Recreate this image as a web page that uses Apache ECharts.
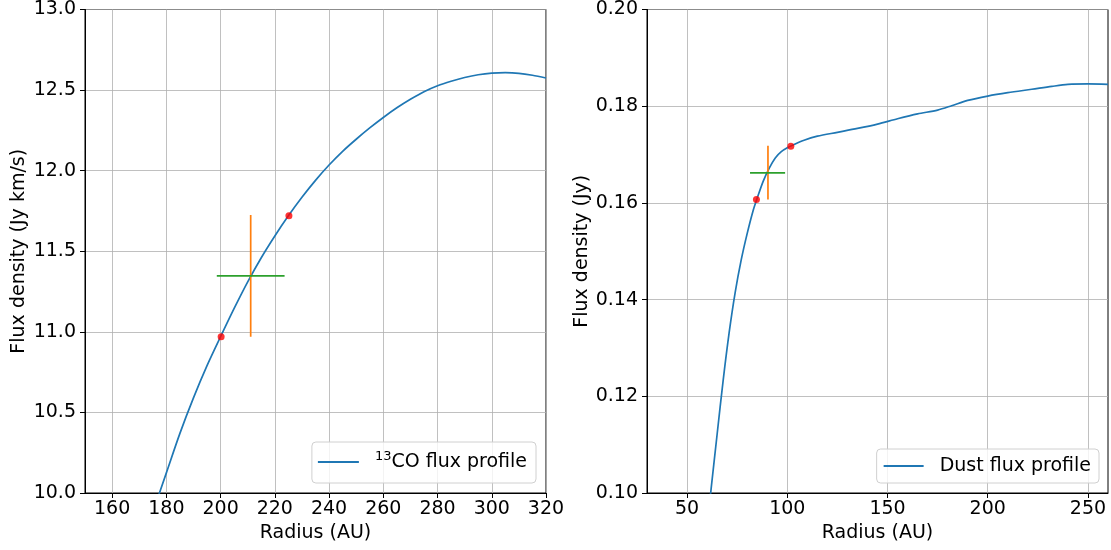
<!DOCTYPE html>
<html><head><meta charset="utf-8">
<script src="https://cdn.jsdelivr.net/npm/echarts@6/dist/echarts.min.js"></script>
<style>html,body{margin:0;padding:0;background:#fff}#c{width:1111px;height:550px}</style>
</head><body><div id="c"></div>
<script>
// ---- Left panel: 13CO flux profile ----
const coRadius = [175, 180, 185, 190, 195, 200, 205, 210, 215, 220, 225, 230, 235, 240, 245, 250, 255, 260, 265, 270, 275, 280, 285, 290, 295, 300, 305, 310, 315, 320];
const coFlux   = [9.88, 10.125, 10.37, 10.59, 10.79, 10.97, 11.145, 11.31, 11.46, 11.595, 11.72, 11.835, 11.94, 12.035, 12.12, 12.195, 12.265, 12.33, 12.39, 12.443, 12.49, 12.527, 12.555, 12.578, 12.595, 12.605, 12.608, 12.604, 12.592, 12.575];
const coDotsX  = [200.2, 225.2];
const coDotsY  = [10.97, 11.72];
const coErrV_X = [211.1, 211.1];
const coErrV_Y = [10.97, 11.725];
const coErrH_X = [198.6, 223.6];
const coErrH_Y = [11.347, 11.347];
const coXTicks = [160, 180, 200, 220, 240, 260, 280, 300, 320];

// ---- Right panel: Dust flux profile ----
const dustRadius = [60, 62, 65, 68, 71, 74, 77, 80, 83, 85, 88, 91, 94, 97, 100, 103, 108, 115, 125, 135, 145, 155, 165, 175, 182, 190, 200, 210, 222, 232, 240, 250, 260];
const dustFlux   = [0.093, 0.1009, 0.1122, 0.1233, 0.1332, 0.1415, 0.1482, 0.1537, 0.1585, 0.1610, 0.1645, 0.1672, 0.1693, 0.1706, 0.1714, 0.1720, 0.1729, 0.1738, 0.1746, 0.1754, 0.1763, 0.1774, 0.1784, 0.1792, 0.1801, 0.1812, 0.1821, 0.1828, 0.1835, 0.1841, 0.1845, 0.1846, 0.1845];
const dustDotsX  = [84.6, 101.75];
const dustDotsY  = [0.1607, 0.1717];
const dustErrV_X = [90.35, 90.35];
const dustErrV_Y = [0.1607, 0.1718];
const dustErrH_X = [81.4, 98.9];
const dustErrH_Y = [0.1662, 0.1662];
const dustXTicks = [50, 100, 150, 200, 250];

const FONT = 'DejaVu Sans';
const FS = 19;
const zip = (a, b) => a.map((v, i) => [v, b[i]]);

function xAx(idx, min, max, ticks) {
  return {
    gridIndex: idx, type: 'value', min: min, max: max,
    name: 'Radius (AU)', nameLocation: 'middle', nameGap: 29,
    nameTextStyle: {fontSize: FS, color: '#000', fontFamily: FONT},
    axisLine: {onZero: false, lineStyle: {color: '#000', width: 1}},
    axisTick: {show: true, inside: false, length: 5, lineStyle: {color: '#000'}, customValues: ticks},
    axisLabel: {customValues: ticks, fontSize: FS, color: '#000', fontFamily: FONT, margin: 7},
    splitLine: {show: true, lineStyle: {color: '#b0b0b0', width: 0.8}}
  };
}
function yAx(idx, min, max, interval, name, dec, gap) {
  return {
    gridIndex: idx, type: 'value', min: min, max: max, interval: interval,
    name: name, nameLocation: 'middle', nameGap: gap,
    nameTextStyle: {fontSize: FS, color: '#000', fontFamily: FONT},
    axisLine: {show: true, onZero: false, lineStyle: {color: '#000', width: 1}},
    axisTick: {show: true, inside: false, length: 5, lineStyle: {color: '#000'}},
    axisLabel: {fontSize: FS, color: '#000', fontFamily: FONT, margin: 9, formatter: v => v.toFixed(dec)},
    splitLine: {show: true, lineStyle: {color: '#b0b0b0', width: 0.8}}
  };
}
function errLine(name, idx, xs, ys, color) {
  return {name: name, type: 'line', xAxisIndex: idx, yAxisIndex: idx, data: zip(xs, ys),
    showSymbol: false, symbol: 'none', silent: true, z: 3,
    lineStyle: {color: color, width: 1.7}, itemStyle: {color: color}};
}

const chart = echarts.init(document.getElementById('c'), null, {renderer: 'canvas'});
chart.setOption({
  animation: false,
  backgroundColor: '#fff',
  textStyle: {fontFamily: FONT},
  grid: [
    {left: 85, right: 565, top: 8, bottom: 57, show: true, borderColor: '#000', borderWidth: 1, backgroundColor: 'transparent'},
    {left: 647, right: 3, top: 8, bottom: 57, show: true, borderColor: '#000', borderWidth: 1, backgroundColor: 'transparent'}
  ],
  xAxis: [xAx(0, 150, 320, coXTicks), xAx(1, 30, 260, dustXTicks)],
  yAxis: [yAx(0, 10, 13, 0.5, 'Flux density (Jy km/s)', 1, 56), yAx(1, 0.10, 0.20, 0.02, 'Flux density (Jy)', 2, 55)],
  legend: [
    {data: ['co'], right: 575, bottom: 67, orient: 'vertical',
     icon: 'rect', itemWidth: 41, itemHeight: 2,
     padding: [8, 9, 9, 6],
     backgroundColor: 'rgba(255,255,255,0.8)', borderColor: '#d0d0d0', borderWidth: 1, borderRadius: 4,
     formatter: () => '{sup|13}CO flux profile',
     textStyle: {fontSize: FS, color: '#000', fontFamily: FONT, lineHeight: 24, padding: [0, 0, 0, 11],
       rich: {sup: {fontSize: 13, fontFamily: FONT, color: '#000', verticalAlign: 'top', lineHeight: 14}}}},
    {data: ['Dust flux profile'], right: 12, bottom: 67, orient: 'vertical',
     icon: 'rect', itemWidth: 40, itemHeight: 2,
     padding: [6, 8, 6, 7],
     backgroundColor: 'rgba(255,255,255,0.8)', borderColor: '#d0d0d0', borderWidth: 1, borderRadius: 4,
     textStyle: {fontSize: FS, color: '#000', fontFamily: FONT, lineHeight: 22, padding: [0, 0, 0, 11]}}
  ],
  series: [
    {name: 'co', type: 'line', xAxisIndex: 0, yAxisIndex: 0, data: zip(coRadius, coFlux),
     smooth: 0.3, showSymbol: false, symbol: 'none', z: 2,
     lineStyle: {color: '#1f77b4', width: 1.7}, itemStyle: {color: '#1f77b4'}},
    errLine('coErrV', 0, coErrV_X, coErrV_Y, '#ff7f0e'),
    errLine('coErrH', 0, coErrH_X, coErrH_Y, '#2ca02c'),
    {name: 'coDots', type: 'scatter', xAxisIndex: 0, yAxisIndex: 0, data: zip(coDotsX, coDotsY),
     symbolSize: 7, z: 4, itemStyle: {color: '#ff0000'}},
    {name: 'Dust flux profile', type: 'line', xAxisIndex: 1, yAxisIndex: 1, data: zip(dustRadius, dustFlux),
     smooth: 0.3, showSymbol: false, symbol: 'none', z: 2,
     lineStyle: {color: '#1f77b4', width: 1.7}, itemStyle: {color: '#1f77b4'}},
    errLine('dustErrV', 1, dustErrV_X, dustErrV_Y, '#ff7f0e'),
    errLine('dustErrH', 1, dustErrH_X, dustErrH_Y, '#2ca02c'),
    {name: 'dustDots', type: 'scatter', xAxisIndex: 1, yAxisIndex: 1, data: zip(dustDotsX, dustDotsY),
     symbolSize: 7, z: 4, itemStyle: {color: '#ff0000'}}
  ]
});
</script>
</body></html>
